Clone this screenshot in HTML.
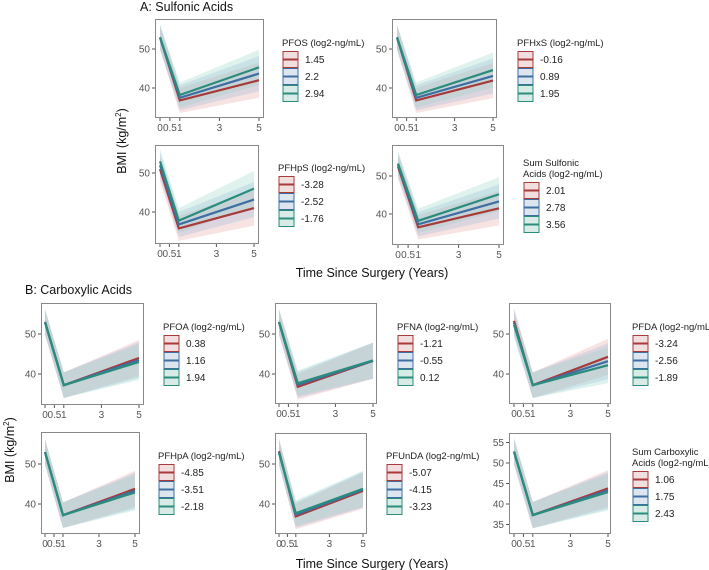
<!DOCTYPE html>
<html><head><meta charset="utf-8"><style>
html,body{margin:0;padding:0;background:#fff;}
svg{display:block;font-family:"Liberation Sans",Arial,sans-serif;}
</style></head><body>
<svg id="fig" width="709" height="570" viewBox="0 0 709 570">
<text x="140" y="11" font-size="12.5" fill="#111">A: Sulfonic Acids</text>
<text x="25" y="294" font-size="12.5" fill="#111">B: Carboxylic Acids</text>
<text x="372" y="277" font-size="12.5" fill="#111" text-anchor="middle">Time Since Surgery (Years)</text>
<text x="372" y="568" font-size="12.5" fill="#111" text-anchor="middle">Time Since Surgery (Years)</text>
<text transform="translate(126,141) rotate(-90)" font-size="12.5" fill="#111" text-anchor="middle">BMI (kg/m<tspan font-size="8" dy="-5">2</tspan><tspan dy="5">)</tspan></text>
<text transform="translate(14,450) rotate(-90)" font-size="12.5" fill="#111" text-anchor="middle">BMI (kg/m<tspan font-size="8" dy="-5">2</tspan><tspan dy="5">)</tspan></text>
</svg>
<script>
// ---- data ----
var timePoints = [0, 1, 5];
var xTickValues = [0, 0.5, 1, 3, 5];
var xTickLabels = ["0", "0.5", "1", "3", "5"];
var panelNames = ["PFOS", "PFHxS", "PFHpS", "Sum Sulfonic Acids", "PFOA", "PFNA", "PFDA", "PFHpA", "PFUnDA", "Sum Carboxylic Acids"];
var legendTitles = [["PFOS (log2-ng/mL)"], ["PFHxS (log2-ng/mL)"], ["PFHpS (log2-ng/mL)"], ["Sum Sulfonic", "Acids (log2-ng/mL)"],
  ["PFOA (log2-ng/mL)"], ["PFNA (log2-ng/mL)"], ["PFDA (log2-ng/mL)"], ["PFHpA (log2-ng/mL)"], ["PFUnDA (log2-ng/mL)"], ["Sum Carboxylic", "Acids (log2-ng/mL)"]];
var legendValues = [["1.45","2.2","2.94"],["-0.16","0.89","1.95"],["-3.28","-2.52","-1.76"],["2.01","2.78","3.56"],
  ["0.38","1.16","1.94"],["-1.21","-0.55","0.12"],["-3.24","-2.56","-1.89"],["-4.85","-3.51","-2.18"],["-5.07","-4.15","-3.23"],["1.06","1.75","2.43"]];
// BMI at t=0, 1, 5 for low/mid/high exposure
var bmiLow  = [[53,36.8,42.0],[53,36.8,41.9],[51,35.8,41.0],[52.5,36.5,41.5],[53,37.2,44.0],[53,36.8,43.3],[53.3,37.2,44.3],[53,37.2,43.8],[53.2,36.9,43.3],[52.8,37.3,43.8]];
var bmiMid  = [[53,37.5,43.7],[53,37.5,43.1],[52,36.8,43.2],[53,37.3,43.3],[53,37.2,43.5],[53,37.3,43.3],[52.8,37.2,43.2],[53,37.2,43.3],[53,37.3,43.6],[52.8,37.3,43.3]];
var bmiHigh = [[53,38.2,45.3],[53,38.2,44.6],[53,37.8,46.0],[53.3,38.2,45.2],[53,37.2,43.0],[53,37.7,43.4],[52.3,37.2,42.2],[53,37.2,42.9],[52.8,37.7,43.8],[52.8,37.3,42.9]];
var ciHalf = [3.2, 3.2, 4.5];
var yTickSets = [[40,50],[40,50],[40,50],[40,50],[40,50],[40,50],[40,50],[40,50],[40,50],[35,40,45,50,55]];

// ---- layout (pixels) ----
var boxes = [[155,19,264,118],[392,19,497,118],[155,145,259,244],[392,145,504,245],
  [41,303,144,405],[275,303,377,404],[509,303,611,404],[41,432,140,534],[275,433,367,534],[509,433,611,534]];
var xRange = [[160,259],[397,493],[160,254],[398,499],[45,139],[279,373],[514,608],[45,135],[279,363],[514,608]];
var yRange = [[49,88],[49,88],[173,212],[176,214],[334,374],[334,374],[334,374],[464,504],[464,504],[463,504]];
var legendPos = [[282,46],[517,46],[278,171],[523,166],[163,330],[397,330],[632,330],[158,459],[386,459],[632,455]];
var lineColors = ["#a83a3a", "#3d6fa3", "#2a8c7c"];
var ribbonColors = ["#e79a9a", "#8fb0d8", "#8fd0c2"];
var keyFills = ["#f1dede", "#dde6ef", "#d8ebe6"];

var NS = "http://www.w3.org/2000/svg";
var svg = document.getElementById("fig");
function mk(tag, attrs, parent) {
  var e = document.createElementNS(NS, tag);
  for (var k in attrs) e.setAttribute(k, attrs[k]);
  (parent || svg).appendChild(e);
  return e;
}
var defs = mk("defs", {});

panelNames.forEach(function (name, p) {
  var b = boxes[p], xr = xRange[p], yr = yRange[p];
  function sx(t) { return xr[0] + (xr[1] - xr[0]) * t / 5; }
  function sy(v) { return yr[1] + (yr[0] - yr[1]) * (v - 40) / 10; }
  var g = mk("g", {});
  
  
  var cp = mk("clipPath", {id: "clip" + p}, defs);
  mk("rect", {x: b[0], y: b[1], width: b[2] - b[0], height: b[3] - b[1]}, cp);
  var plot = mk("g", {"clip-path": "url(#clip" + p + ")"}, g);
  var series = [bmiLow[p], bmiMid[p], bmiHigh[p]];
  series.forEach(function (vals, s) {
    var up = timePoints.map(function (t, i) { return sx(t) + "," + sy(vals[i] + ciHalf[i]); });
    var lo = timePoints.map(function (t, i) { return sx(t) + "," + sy(vals[i] - ciHalf[i]); }).reverse();
    var rib = mk("polygon", {points: up.concat(lo).join(" "), fill: ribbonColors[s], "fill-opacity": 0.28}, plot);
    
    
  });
  series.forEach(function (vals, s) {
    var pts = timePoints.map(function (t, i) { return sx(t) + "," + sy(vals[i]); }).join(" ");
    var ln = mk("polyline", {points: pts, fill: "none", stroke: lineColors[s], "stroke-width": 2.2}, plot);
    
    
  });
  var frame = mk("rect", {x: b[0] + 0.5, y: b[1] + 0.5, width: b[2] - b[0] - 1, height: b[3] - b[1] - 1, fill: "none", stroke: "#888", "stroke-width": 1}, g);
  
  
  xTickValues.forEach(function (t, i) {
    mk("line", {x1: sx(t), x2: sx(t), y1: b[3], y2: b[3] + 3, stroke: "#555"}, g);
    var tl = mk("text", {x: sx(t), y: b[3] + 13, "font-size": 10, fill: "#555", "text-anchor": "middle"}, g);
    tl.textContent = xTickLabels[i];
    
    
  });
  yTickSets[p].forEach(function (v) {
    mk("line", {x1: b[0] - 3, x2: b[0], y1: sy(v), y2: sy(v), stroke: "#555"}, g);
    var yl = mk("text", {x: b[0] - 5, y: sy(v) + 3.5, "font-size": 10, fill: "#555", "text-anchor": "end"}, g);
    yl.textContent = v;
    
    
  });
  // legend
  var lp = legendPos[p];
  var lg = mk("g", {}, g);
  
  
  legendTitles[p].forEach(function (line, i) {
    var tt = mk("text", {x: lp[0], y: lp[1] + i * 11, "font-size": 9.5, fill: "#222"}, lg);
    tt.textContent = line;
    
    
  });
  var ky = lp[1] + (legendTitles[p].length - 1) * 11 + 5;
  legendValues[p].forEach(function (val, s) {
    var y = ky + s * 17;
    var e = mk("g", {}, lg);
    
    
    mk("rect", {x: lp[0] + 1, y: y + 0.5, width: 15, height: 16, fill: keyFills[s], stroke: lineColors[s], "stroke-width": 1}, e);
    mk("line", {x1: lp[0] + 1, x2: lp[0] + 16, y1: y + 8.5, y2: y + 8.5, stroke: lineColors[s], "stroke-width": 2}, e);
    var lt = mk("text", {x: lp[0] + 23, y: y + 12, "font-size": 10, fill: "#222"}, e);
    lt.textContent = val;
  });
});
</script>
</body></html>
